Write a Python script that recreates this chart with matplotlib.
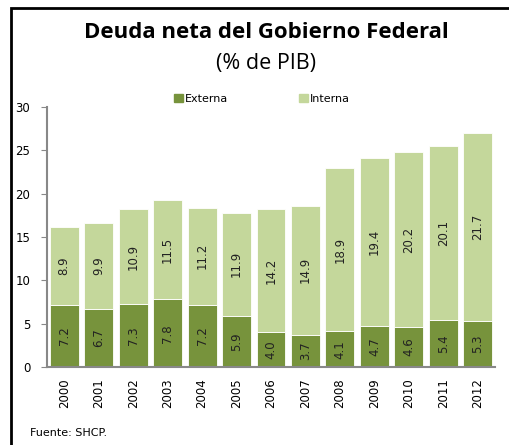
import matplotlib
matplotlib.use("Agg")
import matplotlib.pyplot as plt
import matplotlib.patches as mpatches
import numpy as np

years = ["2000", "2001", "2002", "2003", "2004", "2005", "2006",
         "2007", "2008", "2009", "2010", "2011", "2012"]
externa = [7.2, 6.7, 7.3, 7.8, 7.2, 5.9, 4.0, 3.7, 4.1, 4.7, 4.6, 5.4, 5.3]
interna = [8.9, 9.9, 10.9, 11.5, 11.2, 11.9, 14.2, 14.9, 18.9, 19.4, 20.2, 20.1, 21.7]

C_EXT = "#77933C"
C_INT = "#C4D79B"
W, H = 510, 445

fig = plt.figure(figsize=(W / 100, H / 100), dpi=100)
# axes box in pixels: left 47, right 495, top 107, bottom 367
ax = fig.add_axes([47 / W, 1 - 367 / H, (495 - 47) / W, (367 - 107) / H])

xs = np.arange(len(years))
ext = np.array(externa)
intn = np.array(interna)
ax.bar(xs, ext, width=0.84, color=C_EXT, edgecolor="white", linewidth=0.6, label="Externa")
ax.bar(xs, intn, bottom=ext, width=0.84, color=C_INT, edgecolor="white", linewidth=0.6,
       label="Interna")

for x, e, i in zip(xs, ext, intn):
    ax.text(x, e / 2, f"{e:.1f}", rotation=90, ha="center", va="center", fontsize=8.5, color="#222")
    ax.text(x, e + i / 2, f"{i:.1f}", rotation=90, ha="center", va="center", fontsize=8.5, color="#222")

ax.set_xlim(-0.5, len(years) - 0.5)
ax.set_ylim(0, 30)
ax.set_yticks(range(0, 31, 5))
ax.set_xticks(xs)
ax.set_xticklabels(years, rotation=90, fontsize=8.5)
ax.tick_params(axis="x", length=0, pad=8)
ax.tick_params(axis="y", length=4, color="#888", labelsize=8.5, pad=8)
for s in ("top", "right"):
    ax.spines[s].set_visible(False)
for s in ("left", "bottom"):
    ax.spines[s].set_color("#888")
    ax.spines[s].set_linewidth(1.5)

handles = [mpatches.Patch(color=C_EXT, label="Externa"),
           mpatches.Patch(color=C_INT, label="Interna")]
fig.legend(handles=handles, loc="center", bbox_to_anchor=(262 / W, 1 - 99 / H), ncol=2,
           frameon=False, fontsize=8, handlelength=0.8, handleheight=0.8, handletextpad=0.2,
           columnspacing=6.3)

fig.text(266 / W, 1 - 33 / H, "Deuda neta del Gobierno Federal", ha="center", va="center",
         fontsize=16, fontweight="bold", family="Open Sans")
fig.text(266 / W, 1 - 63 / H, "(% de PIB)", ha="center", va="center", fontsize=15.5, family="Open Sans")
fig.text(30 / W, 1 - 433 / H, "Fuente: SHCP.", ha="left", va="center", fontsize=8)

# outer frame (right and bottom edges fall outside the image)
frame = mpatches.Rectangle((11 / W, -0.05), 1.1, 1 - 8 / H + 0.05, transform=fig.transFigure,
                           fill=False, edgecolor="black", linewidth=2, clip_on=False)
fig.patches.append(frame)

fig.savefig("out.png", dpi=100)
